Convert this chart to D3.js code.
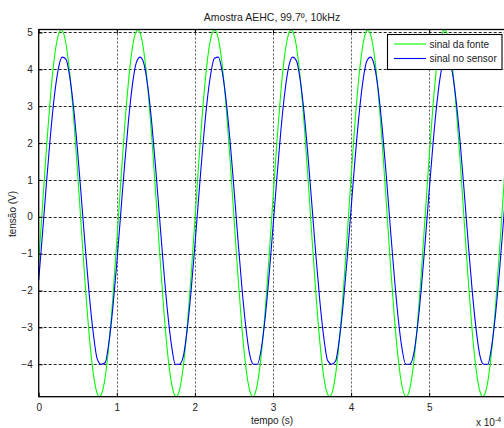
<!DOCTYPE html>
<html>
<head>
<meta charset="utf-8">
<script src="https://cdn.jsdelivr.net/npm/d3@7"></script>
<style>
  html, body { margin: 0; padding: 0; background: #fff; }
  svg { display: block; }
  text { font-family: "Liberation Sans", Arial, Helvetica, sans-serif; fill: #222; }
</style>
</head>
<body>
<svg id="chart" width="504" height="428"></svg>
<script>
// Sampled signals, one value every 0.05 (x 10^-4 s)
const sampleStep = 0.05;
const sinalFonte = [
  -1.24, 0.33, 1.89, 3.25, 4.30, 4.92, 5.06, 4.68, 3.84, 2.62,
  1.15, -0.44, -1.96, -3.29, -4.26, -4.80, -4.83, -4.37, -3.45, -2.18,
  -0.67, 0.92, 2.42, 3.68, 4.59, 5.03, 4.98, 4.42, 3.43, 2.10,
  0.57, -1.01, -2.48, -3.69, -4.51, -4.87, -4.72, -4.08, -3.02, -1.64,
  -0.09, 1.49, 2.92, 4.06, 4.81, 5.07, 4.83, 4.11, 2.98, 1.56,
  -0.01, -1.57, -2.96, -4.04, -4.70, -4.87, -4.54, -3.74, -2.54, -1.08,
  0.50, 2.04, 3.38, 4.39, 4.96, 5.04, 4.62, 3.73, 2.48, 0.99,
  -0.60, -2.11, -3.40, -4.34, -4.82, -4.81, -4.30, -3.34, -2.03, -0.51,
  1.08, 2.56, 3.79, 4.65, 5.05, 4.94, 4.34, 3.31, 1.95, 0.41,
  -1.17, -2.62, -3.79, -4.57, -4.88, -4.68, -3.99, -2.89, -1.49, 0.08,
  1.64, 3.05, 4.16, 4.86, 5.07, 4.78, 4.01, 2.84, 1.40, -0.18,
  -1.73, -3.09, -4.13, -4.74, -4.86, -4.48, -3.63, -2.40, -0.92, 0.66,
  2.19
];
const sinalSensor = [
  -1.72, -0.42, 0.93, 2.20, 3.26, 4.00, 4.33, 4.27, 3.76, 2.89,
  1.73, 0.41, -0.93, -2.18, -3.18, -3.86, -4.00, -3.96, -3.39, -2.45,
  -1.26, 0.08, 1.41, 2.62, 3.58, 4.18, 4.33, 4.13, 3.48, 2.49,
  1.26, -0.09, -1.41, -2.58, -3.48, -4.00, -4.00, -3.80, -3.08, -2.04,
  -0.78, 0.57, 1.88, 3.01, 3.84, 4.30, 4.33, 3.93, 3.15, 2.06,
  0.77, -0.58, -1.87, -2.95, -3.72, -4.00, -4.00, -3.58, -2.73, -1.59,
  -0.28, 1.07, 2.32, 3.35, 4.06, 4.33, 4.23, 3.69, 2.78, 1.60,
  0.27, -1.07, -2.29, -3.27, -3.90, -4.00, -3.92, -3.31, -2.34, -1.13,
  0.22, 1.55, 2.73, 3.66, 4.22, 4.33, 4.08, 3.39, 2.37, 1.13,
  -0.23, -1.54, -2.69, -3.55, -4.00, -4.00, -3.74, -2.99, -1.92, -0.64,
  0.71, 2.01, 3.11, 3.91, 4.32, 4.31, 3.87, 3.05, 1.93, 0.63,
  -0.72, -1.99, -3.04, -3.77, -4.00, -4.00, -3.51, -2.63, -1.47, -0.14,
  1.20
];
const xTicks = [0, 1, 2, 3, 4, 5];
const yTicks = [-4, -3, -2, -1, 0, 1, 2, 3, 4, 5];
const xDomain = [0, 6];
const yDomain = [-4.88, 5.08];
const legendLabels = ["sinal da fonte", "sinal no sensor"];
const seriesColors = ["#00ff00", "#0000ff"];
const titleText = "Amostra AEHC, 99.7º, 10kHz";

const svg = d3.select("#chart");
const plotLeft = 38.7, plotRight = 507.3, plotTop = 29.5, plotBottom = 396.7;

const x = d3.scaleLinear().domain(xDomain).range([plotLeft, plotRight]);
const y = d3.scaleLinear().domain(yDomain).range([plotBottom, plotTop]);

svg.append("defs").append("clipPath").attr("id", "plotClip")
  .append("rect").attr("x", plotLeft).attr("y", plotTop)
  .attr("width", plotRight - plotLeft).attr("height", plotBottom - plotTop);

// dotted grid
const grid = svg.append("g");
grid.selectAll("line.h").data(yTicks).join("line")
  .attr("class", "h")
  .attr("x1", plotLeft).attr("x2", plotRight)
  .attr("y1", d => Math.round(y(d)) + 0.5).attr("y2", d => Math.round(y(d)) + 0.5)
  .attr("stroke", "#222").attr("stroke-width", 1)
  .attr("stroke-dasharray", "3,2");
grid.selectAll("line.v").data(xTicks.filter(d => d > 0)).join("line")
  .attr("class", "v")
  .attr("x1", d => Math.round(x(d)) + 0.5).attr("x2", d => Math.round(x(d)) + 0.5)
  .attr("y1", plotTop).attr("y2", plotBottom)
  .attr("stroke", "#555").attr("stroke-width", 1)
  .attr("stroke-dasharray", "2,2");

// signals
const idx = d3.range(sinalFonte.length);
const lineFonte = d3.line()
  .x(i => x(i * sampleStep)).y(i => y(sinalFonte[i]))
  .curve(d3.curveNatural);
const lineSensor = d3.line()
  .x(i => x(i * sampleStep)).y(i => y(sinalSensor[i]))
  .curve(d3.curveMonotoneX);

const plot = svg.append("g").attr("clip-path", "url(#plotClip)");
plot.append("path").attr("d", lineFonte(idx))
  .attr("fill", "none").attr("stroke", seriesColors[0]).attr("stroke-width", 1.1);
plot.append("path").attr("d", lineSensor(idx))
  .attr("fill", "none").attr("stroke", seriesColors[1]).attr("stroke-width", 1.1);

// axes with inward ticks
function styleAxis(g) {
  g.select(".domain").remove();
  g.selectAll(".tick line").attr("stroke", "#000");
  g.selectAll(".tick text")
    .style("font-family", "'Liberation Sans', Arial, sans-serif")
    .style("font-size", "10px").attr("fill", "#222");
}
const intFmt = d3.format("d");
svg.append("g").attr("transform", `translate(0,${plotBottom})`)
  .call(d3.axisBottom(x).tickValues(xTicks).tickFormat(intFmt)
    .tickSizeInner(-4).tickSizeOuter(0).tickPadding(7))
  .call(styleAxis);
svg.append("g").attr("transform", `translate(${plotLeft},0)`)
  .call(d3.axisLeft(y).tickValues(yTicks).tickFormat(intFmt)
    .tickSizeInner(-4).tickSizeOuter(0).tickPadding(6))
  .call(styleAxis);
svg.append("g").attr("transform", `translate(0,${plotTop})`)
  .call(d3.axisTop(x).tickValues(xTicks).tickSizeInner(-4).tickSizeOuter(0).tickFormat(""))
  .call(styleAxis);

// axes box
svg.append("rect").attr("x", plotLeft).attr("y", plotTop)
  .attr("width", plotRight - plotLeft).attr("height", plotBottom - plotTop)
  .attr("fill", "none").attr("stroke", "#000").attr("stroke-width", 1.3);

// title and axis labels
svg.append("text").attr("x", 272).attr("y", 20.5).attr("text-anchor", "middle")
  .style("font-size", "10.5px").text(titleText);
svg.append("text").attr("x", 272).attr("y", 424).attr("text-anchor", "middle")
  .style("font-size", "10px").text("tempo (s)");
svg.append("text").attr("transform", "translate(16,214) rotate(-90)")
  .attr("text-anchor", "middle").style("font-size", "10px").text("tensão (V)");
const expo = svg.append("text").attr("x", 476).attr("y", 426).style("font-size", "10px");
expo.append("tspan").text("x 10");
expo.append("tspan").attr("dy", -4).style("font-size", "7px").text("-4");

// legend
const lg = svg.append("g");
lg.append("rect").attr("x", 387.5).attr("y", 34.5).attr("width", 114.5).attr("height", 35)
  .attr("fill", "#fff").attr("stroke", "#000").attr("stroke-width", 1.1);
legendLabels.forEach((lab, i) => {
  const yy = 44 + i * 14.5;
  lg.append("line").attr("x1", 394).attr("x2", 426).attr("y1", yy).attr("y2", yy)
    .attr("stroke", seriesColors[i]).attr("stroke-width", 1.1);
  lg.append("text").attr("x", 429.5).attr("y", yy + 3.5)
    .style("font-size", "10px").text(lab);
});
</script>
</body>
</html>
